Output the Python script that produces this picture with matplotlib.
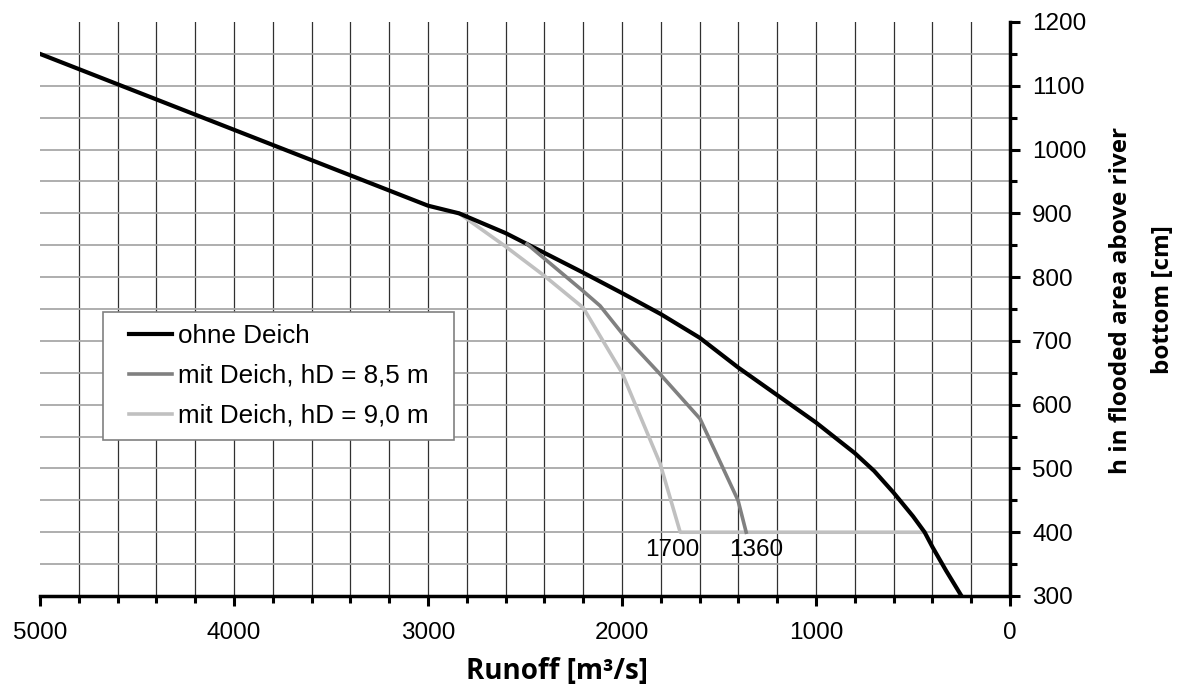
import matplotlib
matplotlib.use("Agg")
import matplotlib.pyplot as plt
from matplotlib.path import Path
import numpy as np

# Data
ohne_x = [5000, 4000, 3000, 2840, 2600, 2400, 2200, 2000, 1800, 1600, 1400, 1200, 1000, 800, 700, 600, 500, 440, 400, 330, 250]
ohne_y = [1150, 1031, 912, 900, 869, 838, 807, 775, 742, 705, 658, 615, 572, 524, 496, 462, 425, 400, 377, 340, 300]

d85_x = [2490, 2200, 2113, 2000, 1804, 1598, 1402, 1360]
d85_y = [852, 778, 755, 712, 648, 578, 450, 400]

d90_x = [2840, 2600, 2400, 2200, 2000, 1804, 1700, 440]
d90_y = [900, 848, 802, 752, 650, 508, 400, 400]

labels = ["ohne Deich", "mit Deich, hD = 8,5 m", "mit Deich, hD = 9,0 m"]
annot_vals = [1700, 1360]
annot_dx = [-8, 10]  # pixel offsets of the labels

W, H = 1192, 692
fig = plt.figure(figsize=(W/100, H/100), dpi=100)
ax = fig.add_axes([40/W, 1-596/H, 970/W, 574/H])

ax.set_xlim(5000, 0)
ax.set_ylim(300, 1200)

# grid lines
for gx in np.arange(200, 5000, 200):
    ax.axvline(gx, color="#303030", lw=0.9, zorder=1)
for gy in np.arange(350, 1200, 50):
    ax.axhline(gy, color="#a8a8a8", lw=1.3, zorder=1)

ax.plot(ohne_x, ohne_y, color="black", lw=3.0, label=labels[0], zorder=3, solid_joinstyle="round")
ax.plot(d85_x, d85_y, color="#808080", lw=2.6, label=labels[1], zorder=4)
ax.plot(d90_x, d90_y, color="#c0c0c0", lw=2.6, label=labels[2], zorder=2.5)

for v, dx in zip(annot_vals, annot_dx):
    ax.annotate(str(v), xy=(v, 400), xytext=(dx, -18), textcoords="offset pixels",
                ha="center", va="center", fontsize=17.5, family="Liberation Sans", zorder=5)

for s in ["top", "left"]:
    ax.spines[s].set_visible(False)
for s in ["bottom", "right"]:
    ax.spines[s].set_linewidth(2.5)
    ax.spines[s].set_zorder(6)

ax.yaxis.tick_right()
ax.set_xticks(np.arange(0, 5001, 1000))
ax.set_xticks(np.arange(0, 5001, 200), minor=True)
ax.set_yticks(np.arange(300, 1201, 100))
ax.set_yticks(np.arange(300, 1201, 50), minor=True)
ax.tick_params(axis="both", which="major", direction="out", length=7, width=2.2, labelsize=17.5)
ax.tick_params(axis="x", which="major", pad=12)
ax.tick_params(axis="y", which="major", pad=9)
ax.tick_params(axis="both", which="minor", direction="out", length=5, width=2.2)
for lab in ax.get_xticklabels() + ax.get_yticklabels():
    lab.set_family("Liberation Sans")

fig.text(557/W, 1-672/H, "Runoff [m³/s]", fontsize=20, fontweight="bold",
         family="Open Sans", ha="center", va="center")
fig.text(1142/W, 1-300/H, "h in flooded area above river\nbottom [cm]", fontsize=17.5,
         fontweight="bold", family="Open Sans", rotation=90, ha="center", va="center",
         multialignment="center", linespacing=1.95)

EXTRA = 14  # extra horizontal padding (pixels) of the legend frame


def wide_box(x0, y0, width, height, mutation_size):
    xa, xb = x0 - EXTRA, x0 + width + EXTRA
    return Path([(xa, y0), (xb, y0), (xb, y0 + height), (xa, y0 + height), (xa, y0)],
                closed=True)


leg = ax.legend(loc="upper left", bbox_to_anchor=((103 + EXTRA - 40)/970, (596-312)/574),
                prop={"family": "Liberation Sans", "size": 18.7}, fancybox=False,
                edgecolor="#808080", framealpha=1, handlelength=1.65, borderpad=0.45,
                labelspacing=0.62, handletextpad=0.25, borderaxespad=0)
leg.get_frame().set_boxstyle(wide_box)
leg.get_frame().set_linewidth(1.2)
leg.set_zorder(7)

fig.savefig("out.png", dpi=100)
